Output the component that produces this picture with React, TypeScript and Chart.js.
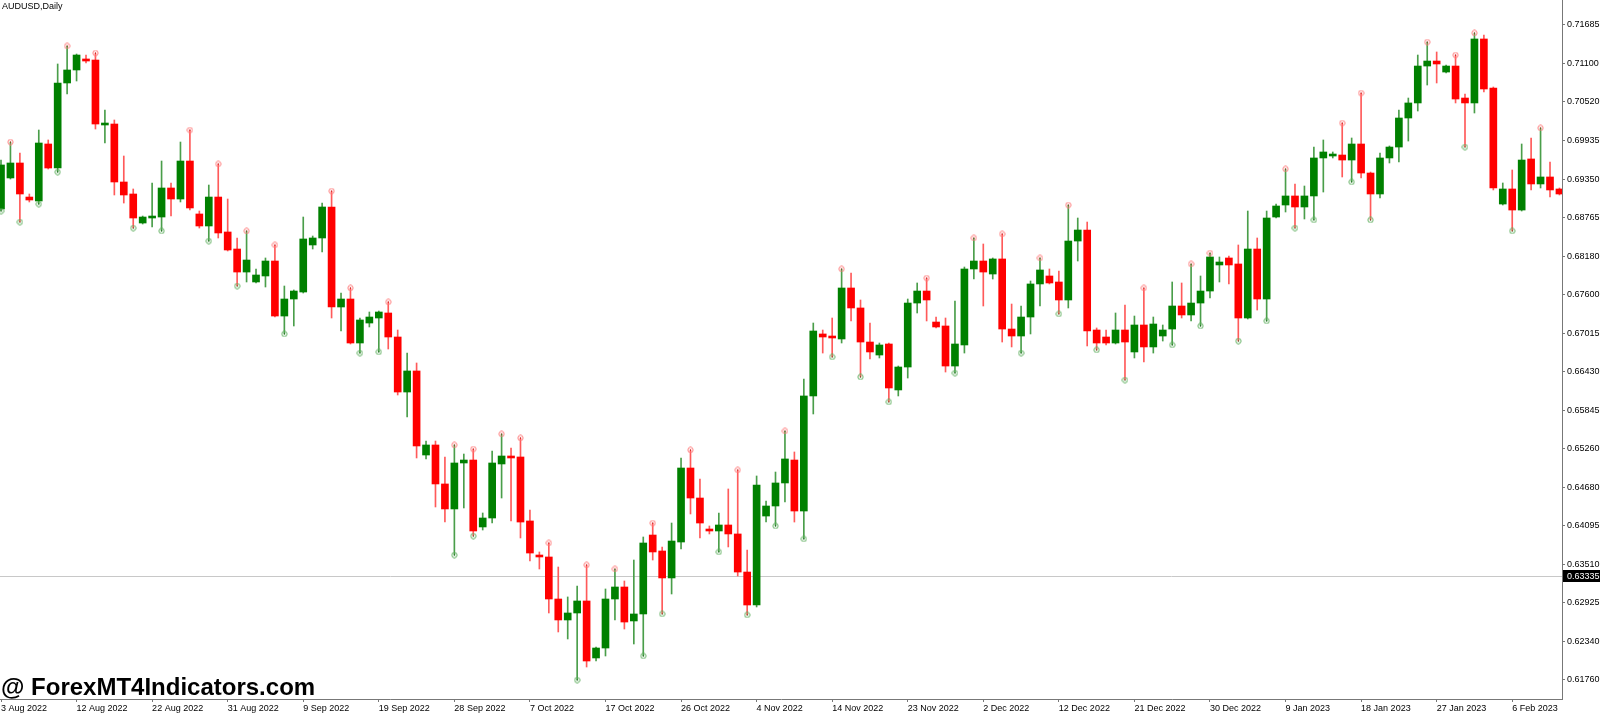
import { useEffect, useRef } from "react";
import { Chart, registerables } from "chart.js";

Chart.register(...registerables);

const symbolTitle = "AUDUSD,Daily";
const watermark = "@ ForexMT4Indicators.com";

// daily OHLC, 3 Aug 2022 .. 12 Feb 2023 (broker feed with Sunday bars)
const opens = [
  0.68896, 0.69366, 0.69593, 0.69077, 0.69017, 0.69881, 0.69517, 0.70806, 0.71003, 0.7117,
  0.71154, 0.70169, 0.70184, 0.69305, 0.69123, 0.68683, 0.68759, 0.68774, 0.69214, 0.69047,
  0.69623, 0.6882, 0.68638, 0.69077, 0.68547, 0.68289, 0.6794, 0.67789, 0.6788, 0.68107,
  0.67273, 0.67531, 0.67637, 0.6835, 0.68456, 0.68926, 0.6741, 0.67531, 0.66864, 0.67167,
  0.67243, 0.67319, 0.66955, 0.66121, 0.6644, 0.65166, 0.65318, 0.64727, 0.64348, 0.65045,
  0.6509, 0.64075, 0.64211, 0.6503, 0.65151, 0.65136, 0.64166, 0.6365, 0.6362, 0.62983,
  0.62665, 0.62771, 0.62953, 0.62089, 0.6224, 0.62983, 0.63165, 0.6265, 0.62756, 0.63953,
  0.63711, 0.63302, 0.63847, 0.64969, 0.64514, 0.64044, 0.64014, 0.64105, 0.63969, 0.63392,
  0.62892, 0.64241, 0.64393, 0.64742, 0.6509, 0.64317, 0.66061, 0.67001, 0.6697, 0.66925,
  0.67698, 0.67395, 0.66879, 0.66682, 0.66849, 0.66152, 0.665, 0.6747, 0.67652, 0.67182,
  0.67122, 0.66515, 0.66834, 0.67986, 0.68107, 0.6791, 0.68138, 0.67076, 0.6697, 0.67258,
  0.67759, 0.6788, 0.67789, 0.67516, 0.6841, 0.68577, 0.67061, 0.66955, 0.66864, 0.67061,
  0.66728, 0.67137, 0.66804, 0.6697, 0.67076, 0.67425, 0.67289, 0.6747, 0.67652, 0.68047,
  0.68153, 0.68062, 0.67243, 0.68289, 0.67531, 0.68774, 0.68956, 0.69093, 0.68926, 0.69093,
  0.69669, 0.69699, 0.69714, 0.69638, 0.69881, 0.69441, 0.69123, 0.69669, 0.69835, 0.70275,
  0.70503, 0.71063, 0.71139, 0.70972, 0.71063, 0.70578, 0.70503, 0.71473, 0.7073, 0.68971,
  0.69199, 0.6888, 0.69654, 0.69275, 0.69381, 0.69199,
];
const highs = [
  0.69638, 0.69911, 0.69744, 0.69123, 0.70093, 0.69942, 0.71094, 0.71367, 0.71245, 0.7123,
  0.7126, 0.70396, 0.70245, 0.69699, 0.69199, 0.68789, 0.6929, 0.69623, 0.6929, 0.69911,
  0.70093, 0.68865, 0.69259, 0.69578, 0.69047, 0.68456, 0.68562, 0.67986, 0.68153, 0.6835,
  0.67728, 0.67668, 0.68774, 0.68486, 0.68986, 0.69168, 0.67622, 0.67698, 0.67243, 0.67334,
  0.67349, 0.67486, 0.67061, 0.66712, 0.66561, 0.65378, 0.65378, 0.65136, 0.65318, 0.65181,
  0.65257, 0.64287, 0.65227, 0.65485, 0.65272, 0.65424, 0.64332, 0.63696, 0.63832, 0.63468,
  0.63014, 0.6318, 0.63499, 0.62255, 0.63135, 0.63438, 0.63256, 0.63574, 0.63923, 0.64135,
  0.63772, 0.64135, 0.65121, 0.65242, 0.64802, 0.6409, 0.64287, 0.64651, 0.64939, 0.63726,
  0.64848, 0.64469, 0.64908, 0.6553, 0.65212, 0.66318, 0.67167, 0.67061, 0.67243, 0.67986,
  0.67925, 0.67516, 0.67167, 0.66864, 0.66864, 0.66515, 0.67531, 0.67774, 0.67849, 0.67258,
  0.67243, 0.67501, 0.68016, 0.68456, 0.68365, 0.68153, 0.68517, 0.67455, 0.67425, 0.67804,
  0.68153, 0.67986, 0.67956, 0.68956, 0.68759, 0.68698, 0.67092, 0.67061, 0.67319, 0.6744,
  0.67273, 0.67698, 0.67258, 0.67137, 0.67789, 0.67774, 0.68062, 0.6788, 0.68228, 0.68168,
  0.68183, 0.6835, 0.68865, 0.68456, 0.68865, 0.68971, 0.69502, 0.69275, 0.69244, 0.69835,
  0.69942, 0.6976, 0.70199, 0.69972, 0.70654, 0.69456, 0.69744, 0.69851, 0.70396, 0.70578,
  0.7123, 0.71427, 0.71276, 0.71079, 0.7123, 0.70639, 0.71564, 0.71533, 0.70745, 0.6929,
  0.69487, 0.69881, 0.69972, 0.70124, 0.69608, 0.69214,
];
const lows = [
  0.68865, 0.6935, 0.68698, 0.69002, 0.68971, 0.69502, 0.69456, 0.70639, 0.70836, 0.71109,
  0.70108, 0.69896, 0.69108, 0.68986, 0.68607, 0.68668, 0.68623, 0.68562, 0.68789, 0.69002,
  0.6888, 0.68607, 0.6841, 0.68456, 0.68259, 0.67728, 0.67789, 0.67774, 0.67713, 0.67258,
  0.67001, 0.67122, 0.67622, 0.68289, 0.68244, 0.67243, 0.67046, 0.66849, 0.66712, 0.67107,
  0.66728, 0.66773, 0.66076, 0.65742, 0.65121, 0.65106, 0.64378, 0.6415, 0.6365, 0.64363,
  0.63938, 0.64029, 0.64135, 0.64514, 0.64166, 0.63908, 0.63559, 0.63438, 0.62771, 0.62483,
  0.62377, 0.61755, 0.61952, 0.62043, 0.62119, 0.62665, 0.62528, 0.62301, 0.62119, 0.63574,
  0.62756, 0.63059, 0.63741, 0.64272, 0.63908, 0.63969, 0.63696, 0.63772, 0.63332, 0.62741,
  0.62862, 0.6415, 0.6409, 0.64454, 0.6415, 0.63893, 0.65788, 0.66712, 0.66652, 0.66864,
  0.67198, 0.66349, 0.66622, 0.66637, 0.6597, 0.66061, 0.66333, 0.67319, 0.67198, 0.67092,
  0.66424, 0.66409, 0.66712, 0.67834, 0.67425, 0.67834, 0.66879, 0.66804, 0.66712, 0.67001,
  0.67425, 0.67759, 0.67304, 0.67395, 0.68107, 0.66819, 0.66758, 0.66834, 0.66849, 0.66303,
  0.66637, 0.66576, 0.66712, 0.66894, 0.66834, 0.67243, 0.67198, 0.67122, 0.67546, 0.67789,
  0.67759, 0.66894, 0.67228, 0.67364, 0.67198, 0.68759, 0.6885, 0.68607, 0.68744, 0.68729,
  0.69153, 0.69669, 0.69381, 0.69305, 0.69365, 0.68729, 0.69062, 0.69593, 0.69608, 0.69926,
  0.70381, 0.70775, 0.70806, 0.70957, 0.70503, 0.69835, 0.70351, 0.70669, 0.69184, 0.68956,
  0.68562, 0.68865, 0.69184, 0.69214, 0.69077, 0.69108,
];
const closes = [
  0.69563, 0.69593, 0.69123, 0.69032, 0.69896, 0.69517, 0.70806, 0.71003, 0.7123, 0.71139,
  0.70184, 0.70199, 0.69305, 0.69108, 0.68759, 0.68774, 0.68789, 0.69214, 0.69047, 0.69623,
  0.68911, 0.68638, 0.69077, 0.68532, 0.68274, 0.6794, 0.68122, 0.67895, 0.68107, 0.67273,
  0.67531, 0.67652, 0.68441, 0.68456, 0.68926, 0.6741, 0.67531, 0.66864, 0.67213, 0.67258,
  0.67334, 0.66955, 0.66121, 0.6644, 0.65303, 0.65318, 0.64727, 0.64348, 0.65045, 0.6509,
  0.64014, 0.64211, 0.65045, 0.65151, 0.65121, 0.6415, 0.6368, 0.6362, 0.62983, 0.62665,
  0.62771, 0.62953, 0.62043, 0.6224, 0.62983, 0.63165, 0.62634, 0.62756, 0.63832, 0.63696,
  0.63302, 0.63862, 0.64969, 0.64514, 0.64135, 0.64014, 0.64105, 0.63969, 0.63392, 0.62892,
  0.64711, 0.64393, 0.64742, 0.65106, 0.64317, 0.66061, 0.67046, 0.66955, 0.6694, 0.67698,
  0.67395, 0.66879, 0.66728, 0.66834, 0.66182, 0.665, 0.6747, 0.67652, 0.67516, 0.67107,
  0.66515, 0.66849, 0.67986, 0.68107, 0.6794, 0.68138, 0.67076, 0.6697, 0.67258, 0.67759,
  0.67971, 0.67774, 0.67516, 0.6841, 0.68577, 0.67046, 0.66864, 0.66864, 0.67061, 0.66879,
  0.67137, 0.66804, 0.67152, 0.67061, 0.67425, 0.67289, 0.6747, 0.67652, 0.68168, 0.68092,
  0.68047, 0.67243, 0.68289, 0.67531, 0.68759, 0.68941, 0.69093, 0.68926, 0.69093, 0.69669,
  0.6976, 0.69729, 0.69638, 0.69881, 0.69441, 0.69123, 0.69669, 0.69835, 0.70275, 0.70503,
  0.71063, 0.71139, 0.71094, 0.71063, 0.70563, 0.70503, 0.71473, 0.70715, 0.69214, 0.69199,
  0.6888, 0.69638, 0.69275, 0.69381, 0.69184, 0.69123,
];

// bars carrying a fractal mark (up = at the high, down = at the low)
const upFractals = [
  1, 7, 10, 20, 23, 26, 29, 35, 37, 41, 48, 50, 53, 55, 58, 62, 65, 69, 73, 78, 83, 89, 98,
  103, 106, 110, 113, 121, 126, 128, 136, 142, 144, 151, 154, 156, 163,
];
const downFractals = [
  0, 2, 4, 6, 14, 17, 22, 25, 30, 38, 40, 48, 50, 61, 68, 70, 76, 79, 82, 85, 88, 91, 94,
  101, 108, 112, 116, 119, 124, 127, 131, 134, 137, 139, 143, 145, 155, 160,
];

const dateLabels = [
  "3 Aug 2022", "12 Aug 2022", "22 Aug 2022", "31 Aug 2022", "9 Sep 2022", "19 Sep 2022",
  "28 Sep 2022", "7 Oct 2022", "17 Oct 2022", "26 Oct 2022", "4 Nov 2022", "14 Nov 2022",
  "23 Nov 2022", "2 Dec 2022", "12 Dec 2022", "21 Dec 2022", "30 Dec 2022", "9 Jan 2023",
  "18 Jan 2023", "27 Jan 2023", "6 Feb 2023",
];
const barsPerLabel = 8;

const priceTicks = [
  "0.71685", "0.71100", "0.70520", "0.69935", "0.69350", "0.68765", "0.68180", "0.67600",
  "0.67015", "0.66430", "0.65845", "0.65260", "0.64680", "0.64095", "0.63510", "0.62925",
  "0.62340", "0.61760",
];
const bidPrice = 0.63335;

const GREEN = "#008000";
const RED = "#ff0000";
const AXIS = "#777777";
const FONT = "'Liberation Sans', Arial, sans-serif";

// small ring with a dot, like the MT4 fractal glyph
function fractalGlyph(ring: string, dot: string) {
  const c = document.createElement("canvas");
  c.width = 7;
  c.height = 7;
  const g = c.getContext("2d")!;
  g.strokeStyle = ring;
  g.lineWidth = 1;
  g.beginPath();
  g.arc(3.5, 3.5, 2.6, 0, Math.PI * 2);
  g.stroke();
  g.fillStyle = dot;
  g.fillRect(3, 3, 1, 1);
  return c;
}

const bidLine = {
  id: "bidLine",
  beforeDatasetsDraw(chart: any) {
    const { ctx, chartArea, scales } = chart;
    const y = Math.round(scales.y.getPixelForValue(bidPrice)) + 0.5;
    ctx.save();
    ctx.strokeStyle = "#c8c8c8";
    ctx.lineWidth = 1;
    ctx.beginPath();
    ctx.moveTo(chartArea.left, y);
    ctx.lineTo(chartArea.right, y);
    ctx.stroke();
    ctx.restore();
  },
  afterDraw(chart: any) {
    const { ctx, chartArea, scales } = chart;
    const y = Math.round(scales.y.getPixelForValue(bidPrice));
    ctx.save();
    ctx.fillStyle = "#000";
    ctx.fillRect(chartArea.right + 1, y - 6, chart.width - chartArea.right, 12);
    ctx.fillStyle = "#fff";
    ctx.font = `9px ${FONT}`;
    ctx.textAlign = "left";
    ctx.textBaseline = "middle";
    ctx.fillText(bidPrice.toFixed(5), chartArea.right + 5, y + 0.5);
    ctx.restore();
  },
};

export default function App() {
  const canvasRef = useRef<HTMLCanvasElement | null>(null);
  const chartRef = useRef<Chart | null>(null);

  useEffect(() => {
    if (!canvasRef.current) return;
    if (chartRef.current) chartRef.current.destroy();

    const up = closes.map((c, i) => c >= opens[i]);
    const bodies = opens.map((o, i) => ({ x: i, y: [o, closes[i]] }));
    const wicks = opens.map((_, i) => ({ x: i, y: [lows[i], highs[i]] }));

    chartRef.current = new Chart(canvasRef.current, {
      type: "bar",
      data: {
        datasets: [
          {
            type: "scatter",
            data: upFractals.map((i) => ({ x: i, y: highs[i] })),
            pointStyle: fractalGlyph("#ff7a7a", "#b00000"),
            order: 0,
          },
          {
            type: "scatter",
            data: downFractals.map((i) => ({ x: i, y: lows[i] })),
            pointStyle: fractalGlyph("#5fae5f", "#005000"),
            order: 0,
          },
          {
            data: bodies as any,
            backgroundColor: up.map((u) => (u ? GREEN : RED)),
            barThickness: 7,
            grouped: false,
            order: 1,
          },
          {
            data: wicks as any,
            backgroundColor: up.map((u) => (u ? "#4a9e4a" : "#ff5a5a")),
            barThickness: 1,
            grouped: false,
            order: 2,
          },
        ],
      },
      options: {
        responsive: false,
        animation: false,
        events: [],
        layout: { padding: 0, autoPadding: false },
        font: { family: FONT, size: 9 },
        color: "#000",
        plugins: {
          legend: { display: false },
          tooltip: { enabled: false },
        },
        scales: {
          x: {
            type: "linear",
            min: -0.106,
            max: 165.27,
            offset: false,
            grid: { drawOnChartArea: false, drawTicks: true, tickLength: 3, color: AXIS, offset: false },
            border: { display: true, color: AXIS },
            ticks: {
              autoSkip: false,
              maxRotation: 0,
              minRotation: 0,
              align: "start",
              padding: 1,
              color: "#000",
              font: { family: FONT, size: 9 },
              callback: (_v: any, i: number) => dateLabels[i],
            },
            afterBuildTicks: (s: any) => {
              s.ticks = dateLabels.map((_, k) => ({ value: k * barsPerLabel }));
            },
            afterFit: (s: any) => {
              s.height = 15;
              s.paddingLeft = 0;
              s.paddingRight = 0;
            },
          },
          y: {
            position: "right",
            min: 0.61467,
            max: 0.72064,
            beginAtZero: false,
            grid: { drawOnChartArea: false, drawTicks: true, tickLength: 3, color: AXIS },
            border: { display: true, color: AXIS },
            ticks: {
              autoSkip: false,
              padding: 2,
              color: "#000",
              font: { family: FONT, size: 9 },
              callback: (_v: any, i: number) => priceTicks[i],
            },
            afterBuildTicks: (s: any) => {
              s.ticks = priceTicks.map((t) => ({ value: parseFloat(t) }));
            },
            afterFit: (s: any) => {
              s.width = 38;
              s.paddingTop = 0;
              s.paddingBottom = 0;
            },
          },
        },
      } as any,
      plugins: [bidLine],
    });

    return () => {
      if (chartRef.current) {
        chartRef.current.destroy();
        chartRef.current = null;
      }
    };
  }, []);

  return (
    <div
      style={{
        position: "absolute",
        left: 0,
        top: 0,
        width: 1600,
        height: 714,
        background: "#fff",
        overflow: "hidden",
      }}
    >
      <canvas ref={canvasRef} width={1600} height={714} style={{ display: "block" }} />
      <div
        style={{
          position: "absolute",
          left: 2,
          top: 1,
          font: `9px ${FONT}`,
          lineHeight: "10px",
          color: "#000",
          pointerEvents: "none",
        }}
      >
        {symbolTitle}
      </div>
      <div
        style={{
          position: "absolute",
          left: 1,
          top: 675,
          font: `bold 24px ${FONT}`,
          lineHeight: "24px",
          color: "#000",
          whiteSpace: "nowrap",
          pointerEvents: "none",
        }}
      >
        {watermark}
      </div>
    </div>
  );
}
